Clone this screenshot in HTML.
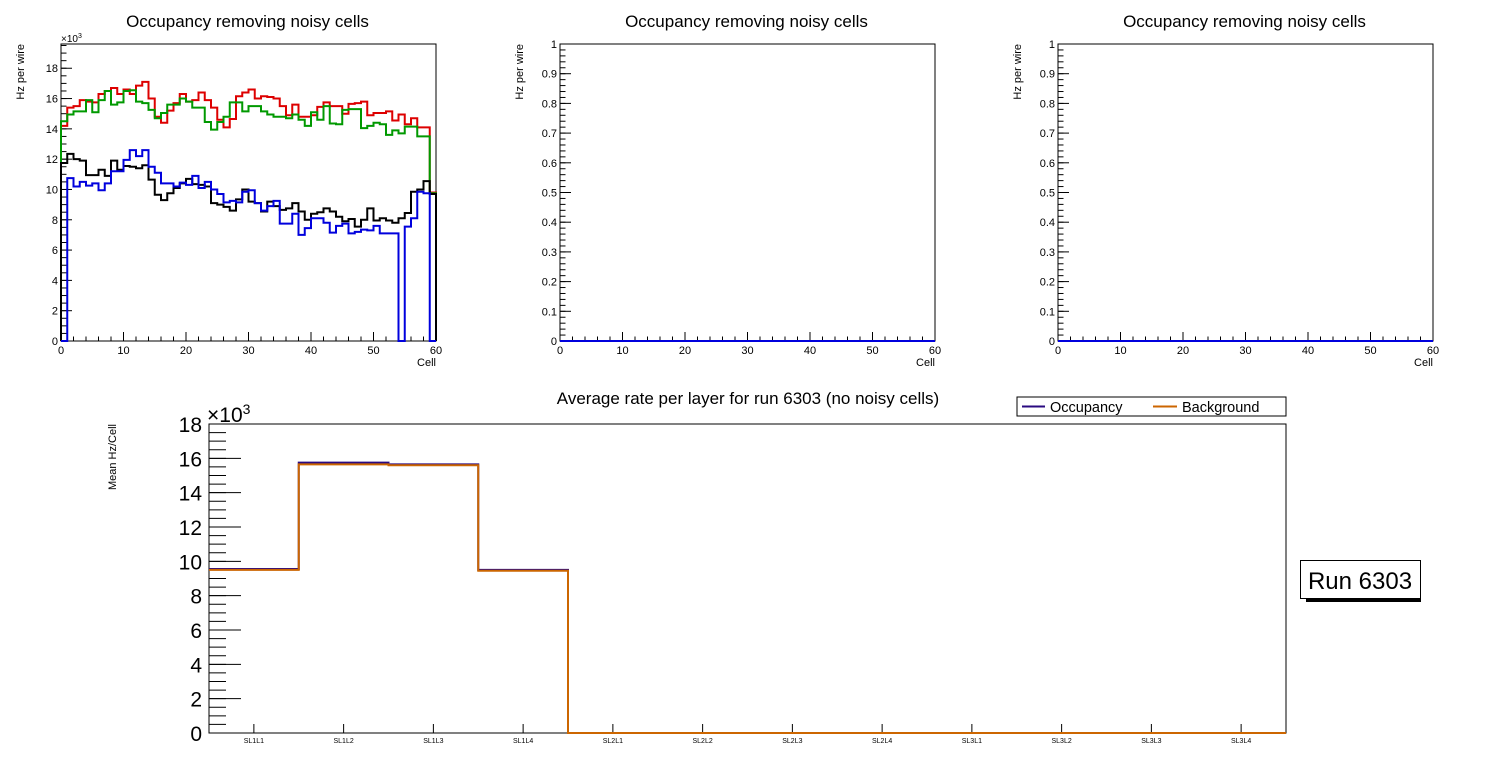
<!DOCTYPE html>
<html><head><meta charset="utf-8"><style>
body{margin:0;background:#fff;}
svg{display:block;font-family:"Liberation Sans",sans-serif;}
</style></head><body>
<svg id="c" width="1496" height="772" viewBox="0 0 1496 772"></svg>
<script>
const cells=Array.from({length:60},(_,i)=>i);
const redVals=[14.2,15.4,15.5,15.9,15.8,15.75,16.3,16.5,16.7,16.3,16.6,16.3,16.85,17.1,16.0,14.8,14.4,15.2,15.7,16.3,15.8,15.9,16.4,15.9,15.4,14.6,14.1,14.65,16.15,16.4,16.6,16.0,16.15,16.1,16.0,15.5,14.9,15.6,14.8,14.8,14.9,15.45,15.75,15.5,15.5,15.0,15.65,15.7,15.8,14.9,15.05,15.05,15.15,14.55,14.95,14.3,14.7,14.1,14.1,9.8];
const greenVals=[14.5,14.95,15.15,15.15,15.9,15.1,15.9,16.5,15.6,15.75,16.5,16.55,15.8,15.7,15.25,14.7,15.05,15.6,15.6,16.0,15.8,15.4,15.4,14.45,13.95,14.45,14.8,15.75,15.75,15.15,15.5,15.5,15.15,14.95,14.8,14.8,14.7,14.95,14.6,14.2,15.1,14.6,15.5,14.35,14.3,15.25,15.3,15.3,14.05,14.2,14.4,14.3,13.6,13.9,13.7,14.15,14.15,13.5,13.5,9.75];
const blackVals=[11.75,12.35,12.0,11.9,10.95,10.95,11.3,10.9,11.9,11.3,11.55,11.5,11.4,11.6,10.65,9.65,9.3,9.75,10.1,10.4,10.7,10.35,10.3,10.2,9.1,9.0,8.85,8.6,9.35,10.0,9.2,9.1,8.55,9.2,8.9,8.65,8.75,9.1,8.55,8.0,8.4,8.5,8.75,8.55,8.2,7.9,8.05,7.55,8.0,8.75,7.95,8.1,7.95,7.8,8.1,8.45,9.85,10.0,10.55,9.7];
const blueVals=[0,10.75,10.2,10.5,10.25,10.4,9.95,10.4,11.2,11.2,11.95,12.6,12.2,12.6,11.5,11.1,10.4,10.4,10.2,10.45,10.3,10.9,10.1,10.5,10.0,9.7,9.15,9.25,9.15,9.85,9.95,9.1,8.6,8.9,9.25,7.75,7.75,8.4,7.0,7.45,8.1,8.1,7.8,7.15,7.6,7.75,7.1,7.2,7.35,7.3,7.6,7.1,7.1,7.1,0,7.55,8.1,9.85,9.75,0];
const layers=["SL1L1","SL1L2","SL1L3","SL1L4","SL2L1","SL2L2","SL2L3","SL2L4","SL3L1","SL3L2","SL3L3","SL3L4"];
const occVals=[9.55,15.75,15.65,9.5,0,0,0,0,0,0,0,0];
const bkgVals=[9.5,15.65,15.6,9.45,0,0,0,0,0,0,0,0];
const xTicks=[0,10,20,30,40,50,60];
const yTicksK=[0,2,4,6,8,10,12,14,16,18];
const yTicksUnit=[0,0.1,0.2,0.3,0.4,0.5,0.6,0.7,0.8,0.9,1];

const NS="http://www.w3.org/2000/svg";
const svg=document.getElementById('c');
function mk(tag,attrs,parent,text){const e=document.createElementNS(NS,tag);for(const k in attrs)e.setAttribute(k,attrs[k]);if(text!==undefined)e.textContent=text;(parent||svg).appendChild(e);return e;}

function panel(px,ymax,yt,minorN,isK,series){
  const x0=px,x1=px+375,y0=341,y1=44;
  const g=mk('g',{});
  
  
  const X=v=>x0+(v/60)*(x1-x0);
  const Y=v=>y0-(v/ymax)*(y0-y1);
  const t=mk('text',{x:(x0+x1)/2-1,y:27,'font-size':17,'text-anchor':'middle'},g,'Occupancy removing noisy cells');
  
  
  const fr=mk('rect',{x:x0,y:y1,width:x1-x0,height:y0-y1,fill:'none',stroke:'#000','stroke-width':1},g);
  
  
  const step=yt[1]-yt[0];
  for(let i=0;i<yt.length;i++){
    const v=yt[i];
    mk('line',{x1:x0,x2:x0+11,y1:Y(v),y2:Y(v),stroke:'#000'},g);
    const l=mk('text',{x:x0-3,y:Y(v)+4,'font-size':11,'text-anchor':'end'},g,isK?String(v):String(Math.round(v*10)/10));
    
    
  }
  for(let v=0;v<=ymax+1e-9;v+=step/minorN){
    mk('line',{x1:x0,x2:x0+5.5,y1:Y(v),y2:Y(v),stroke:'#000'},g);
  }
  for(const v of xTicks){
    mk('line',{x1:X(v),x2:X(v),y1:y0,y2:y0-9,stroke:'#000'},g);
    const l=mk('text',{x:X(v),y:y0+13,'font-size':11,'text-anchor':'middle'},g,String(v));
    
    
  }
  for(let v=0;v<=60;v+=2){mk('line',{x1:X(v),x2:X(v),y1:y0,y2:y0-4.5,stroke:'#000'},g);}
  const xl=mk('text',{x:x1,y:y0+25,'font-size':11,'text-anchor':'end'},g,'Cell');
  
  
  const yl=mk('text',{x:0,y:0,'font-size':11,'text-anchor':'end',transform:`translate(${x0-37},${y1}) rotate(-90)`},g,'Hz per wire');
  
  
  if(isK){
    const m=mk('text',{x:x0,y:y1-2,'font-size':10},g,'×10');
    mk('tspan',{dy:-4,'font-size':7},m,'3');
    
    
  }
  for(const s of series){
    let d=`M${X(0)},${Y(0)}`;
    s.vals.forEach((v,i)=>{d+=`L${X(cells[i])},${Y(v)}L${X(cells[i]+1)},${Y(v)}`;});
    d+=`L${X(60)},${Y(0)}`;
    const p=mk('path',{d:d,fill:'none',stroke:s.color,'stroke-width':2},g);
    
    
  }
}
panel(61,19.6,yTicksK,4,true,[
  {name:'red-series',color:'#dd0000',vals:redVals},
  {name:'green-series',color:'#009900',vals:greenVals},
  {name:'black-series',color:'#000000',vals:blackVals},
  {name:'blue-series',color:'#0000dd',vals:blueVals}]);
const zeros=new Array(60).fill(0);
panel(560,1,yTicksUnit,5,false,[{name:'empty-series',color:'#0000dd',vals:zeros}]);
panel(1058,1,yTicksUnit,5,false,[{name:'empty-series',color:'#0000dd',vals:zeros}]);

(function(){
  const x0=209,x1=1286,y0=733,y1=424,ymax=18,n=layers.length;
  const g=mk('g',{});
  
  
  const X=i=>x0+(i/n)*(x1-x0);
  const Y=v=>y0-(v/ymax)*(y0-y1);
  const t=mk('text',{x:748,y:404,'font-size':17,'text-anchor':'middle'},g,'Average rate per layer for run 6303 (no noisy cells)');
  
  
  const fr=mk('rect',{x:x0,y:y1,width:x1-x0,height:y0-y1,fill:'none',stroke:'#000'},g);
  
  
  for(const v of yTicksK){
    mk('line',{x1:x0,x2:x0+32,y1:Y(v),y2:Y(v),stroke:'#000'},g);
    const l=mk('text',{x:x0-7,y:Y(v)+8,'font-size':21,'text-anchor':'end'},g,String(v));
    
    
  }
  for(let v=0;v<=ymax+1e-9;v+=0.5){mk('line',{x1:x0,x2:x0+17,y1:Y(v),y2:Y(v),stroke:'#000'},g);}
  const m=mk('text',{x:x0-2,y:y1-2,'font-size':21},g,'×10');
  mk('tspan',{dy:-8,'font-size':14},m,'3');
  
  
  const yl=mk('text',{x:0,y:0,'font-size':11,'text-anchor':'end',transform:`translate(${116},${424}) rotate(-90)`},g,'Mean Hz/Cell');
  
  
  layers.forEach((lab,i)=>{
    const cx=(X(i)+X(i+1))/2;
    mk('line',{x1:cx,x2:cx,y1:y0,y2:y0-9,stroke:'#000'},g);
    const l=mk('text',{x:cx,y:y0+10,'font-size':7,'text-anchor':'middle'},g,lab);
    
    
  });
  const ser=[{name:'occupancy-series',color:'#2a0a80',vals:occVals},{name:'background-series',color:'#cc6600',vals:bkgVals}];
  for(const s of ser){
    let d='';
    for(let i=0;i<n;i++){const v=s.vals[i]||0;d+=(i?'L':'M')+`${X(i)},${Y(v)}L${X(i+1)},${Y(v)}`;}
    const p=mk('path',{d:d,fill:'none',stroke:s.color,'stroke-width':2},g);
    
    
  }
  const lg=mk('g',{},g);
  
  
  mk('rect',{x:1017,y:397,width:269,height:19,fill:'#fff',stroke:'#000'},lg);
  mk('line',{x1:1022,x2:1045,y1:406.5,y2:406.5,stroke:'#2a0a80','stroke-width':2},lg);
  const a=mk('text',{x:1050,y:412,'font-size':14.5},lg,'Occupancy');
  
  
  mk('line',{x1:1153,x2:1177,y1:406.5,y2:406.5,stroke:'#cc6600','stroke-width':2},lg);
  const b=mk('text',{x:1182,y:412,'font-size':14.5},lg,'Background');
  
  
  const rb=mk('g',{});
  
  
  mk('rect',{x:1306,y:598,width:115,height:4,fill:'#000'},rb);
  mk('rect',{x:1300.5,y:560.5,width:120,height:38,fill:'#fff',stroke:'#000'},rb);
  mk('text',{x:1360,y:589,'font-size':24,'text-anchor':'middle'},rb,'Run 6303');
})();
</script>
</body></html>
